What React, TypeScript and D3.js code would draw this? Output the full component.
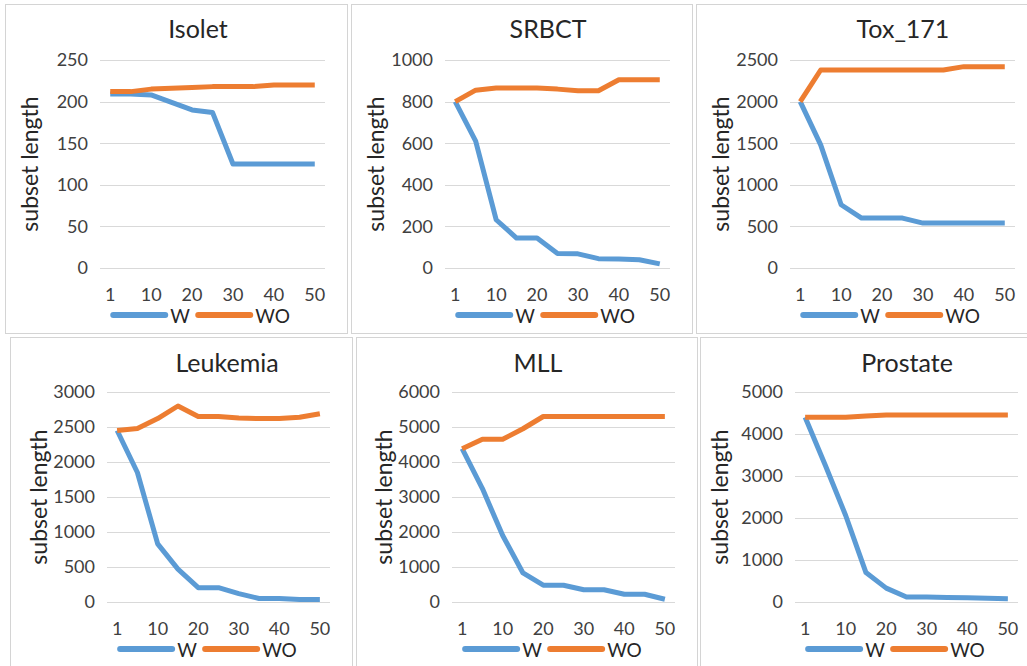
import React from "react";
import * as d3 from "d3";

// x categories and the ones that get a label
const categories = [1, 5, 10, 15, 20, 25, 30, 35, 40, 45, 50];
const labelledCategories = [1, 10, 20, 30, 40, 50];

const titles = ["Isolet", "SRBCT", "Tox_171", "Leukemia", "MLL", "Prostate"];
const yMaxes = [250, 1000, 2500, 3000, 6000, 5000];
const ySteps = [50, 200, 500, 500, 1000, 1000];

const isoletW = [209, 209, 208, 199, 190, 187, 125, 125, 125, 125, 125];
const isoletWO = [212, 212, 215, 216, 217, 218, 218, 218, 220, 220, 220];
const srbctW = [800, 610, 232, 144, 144, 70, 68, 45, 43, 40, 20];
const srbctWO = [800, 855, 865, 865, 865, 860, 852, 852, 905, 905, 905];
const toxW = [2000, 1480, 760, 600, 600, 600, 540, 540, 540, 540, 540];
const toxWO = [2000, 2380, 2380, 2380, 2380, 2380, 2380, 2380, 2420, 2420, 2420];
const leukemiaW = [2450, 1850, 830, 470, 205, 205, 120, 50, 50, 35, 35];
const leukemiaWO = [2450, 2480, 2620, 2800, 2650, 2650, 2630, 2620, 2620, 2640, 2690];
const mllW = [4380, 3240, 1900, 830, 480, 480, 350, 350, 220, 220, 80];
const mllWO = [4380, 4650, 4650, 4950, 5300, 5300, 5300, 5300, 5300, 5300, 5300];
const prostateW = [4400, 3250, 2060, 700, 330, 120, 120, 110, 100, 90, 80];
const prostateWO = [4400, 4400, 4400, 4430, 4450, 4450, 4450, 4450, 4450, 4450, 4450];

const seriesW = [isoletW, srbctW, toxW, leukemiaW, mllW, prostateW];
const seriesWO = [isoletWO, srbctWO, toxWO, leukemiaWO, mllWO, prostateWO];

const BLUE = "#5B9BD5";
const ORANGE = "#ED7D31";
const FONT = "Lato, 'Liberation Sans', sans-serif";

// panel frames: [x0, y0, x1, y1], plot area, title centre, y label centre
const layout = [
  { box: [5, 4, 347, 333], plot: [100, 60, 325, 268], titleX: 198, titleY: 38, labelX: 31 },
  { box: [351, 4, 692, 333], plot: [445, 60, 670, 268], titleX: 548, titleY: 38, labelX: 377 },
  { box: [696, 4, 1032, 333], plot: [790, 60, 1015, 268], titleX: 903, titleY: 38, labelX: 722 },
  { box: [10, 337, 352, 672], plot: [107, 392, 330, 602], titleX: 227, titleY: 372, labelX: 40 },
  { box: [356, 337, 697, 672], plot: [452, 392, 675, 602], titleX: 538, titleY: 372, labelX: 385 },
  { box: [700, 337, 1032, 672], plot: [795, 392, 1018, 602], titleX: 907, titleY: 372, labelX: 721 },
];

const Panel = ({ i }: { i: number }) => {
  const l = layout[i];
  const [px0, py0, px1, py1] = l.plot;
  const x = d3
    .scalePoint<number>()
    .domain(categories)
    .range([px0, px1])
    .padding(0.5);
  const y = d3.scaleLinear().domain([0, yMaxes[i]]).range([py1, py0]);
  const yTicks = d3.range(0, yMaxes[i] + 1, ySteps[i]);
  const line = d3
    .line<number>()
    .x((_, k) => x(categories[k]) as number)
    .y((d) => y(d));

  const legendX = x(categories[0]) as number;
  const legendY = py1 + 47;

  return (
    <g>
      <rect
        x={l.box[0] + 0.5}
        y={l.box[1] + 0.5}
        width={l.box[2] - l.box[0]}
        height={l.box[3] - l.box[1]}
        fill="#fff"
        stroke="#d4d4d4"
        strokeWidth={1}
      />
      <text
        x={l.titleX}
        y={l.titleY}
        textAnchor="middle"
        fontSize={25}
        fill="#262626"
      >
        {titles[i]}
      </text>
      {yTicks.map((t) => (
        <g key={t}>
          <line
            x1={px0}
            x2={px1}
            y1={Math.round(y(t)) + 0.5}
            y2={Math.round(y(t)) + 0.5}
            stroke="#d9d9d9"
            strokeWidth={1}
          />
          <text
            x={px0 - 12}
            y={y(t)}
            dy="0.36em"
            textAnchor="end"
            fontSize={18}
            fill="#404040"
          >
            {t}
          </text>
        </g>
      ))}
      {labelledCategories.map((c) => (
        <text
          key={c}
          x={x(c)}
          y={py1 + 33}
          textAnchor="middle"
          fontSize={18}
          fill="#404040"
        >
          {c}
        </text>
      ))}
      <text
        transform={`translate(${l.labelX + 7},${(py0 + py1) / 2}) rotate(-90)`}
        textAnchor="middle"
        fontSize={23}
        fill="#262626"
      >
        subset length
      </text>
      <path
        d={line(seriesW[i]) || ""}
        fill="none"
        stroke={BLUE}
        strokeWidth={5}
        strokeLinejoin="round"
      />
      <path
        d={line(seriesWO[i]) || ""}
        fill="none"
        stroke={ORANGE}
        strokeWidth={5}
        strokeLinejoin="round"
      />
      {/* legend */}
      <line
        x1={legendX + 3}
        x2={legendX + 55}
        y1={legendY}
        y2={legendY}
        stroke={BLUE}
        strokeWidth={6}
        strokeLinecap="round"
      />
      <text x={legendX + 60} y={legendY + 8} fontSize={19} fill="#262626">
        W
      </text>
      <line
        x1={legendX + 88}
        x2={legendX + 140}
        y1={legendY}
        y2={legendY}
        stroke={ORANGE}
        strokeWidth={6}
        strokeLinecap="round"
      />
      <text x={legendX + 145} y={legendY + 8} fontSize={19} fill="#262626">
        WO
      </text>
    </g>
  );
};

export default function App() {
  return (
    <svg
      width={1027}
      height={666}
      style={{ position: "absolute", left: 0, top: 0, background: "#fff" }}
      fontFamily={FONT}
    >
      <rect width={1027} height={666} fill="#fff" />
      {titles.map((_, i) => (
        <Panel key={i} i={i} />
      ))}
    </svg>
  );
}
